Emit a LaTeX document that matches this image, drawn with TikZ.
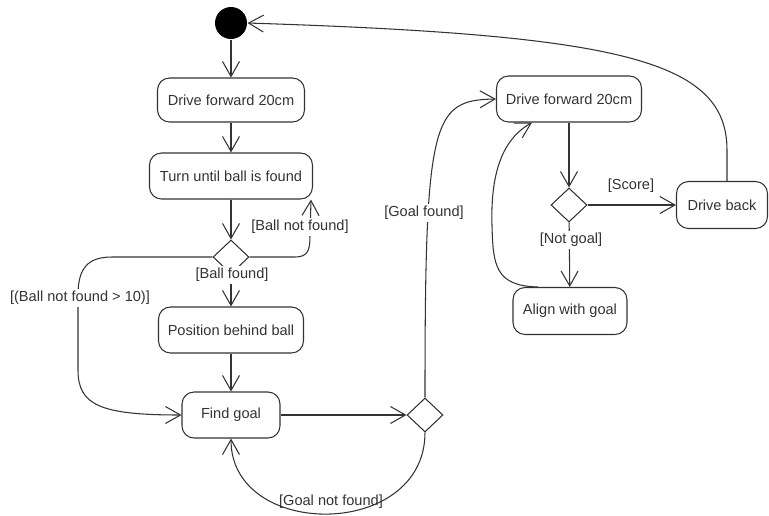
\documentclass[tikz,border=0pt]{standalone}
\usepackage{fontspec}
\setmainfont{Liberation Sans}
\usetikzlibrary{arrows.meta,shapes.geometric,calc}

\begin{document}
\begin{tikzpicture}[
            x=0.02cm, y=-0.02cm,
            color=black!80, line width=0.6pt,
            >={Straight Barb[length=3mm,width=3.4mm]},
            every node/.append style={font=\fontsize{8.3}{10}\selectfont},
            act/.style={draw, rectangle, rounded corners=0.24cm, minimum height=0.9cm, inner sep=2pt},
            choice/.style={draw, diamond, minimum width=0.72cm, minimum height=0.68cm, inner sep=0pt},
            guard/.style={fill=white, inner sep=1pt}
        ]
            \useasboundingbox (0,0) rectangle (769,515);

            \node[circle, fill=black, minimum size=0.64cm, inner sep=0pt] (start) at (231,23) {};
            \node[act, minimum width=2.94cm, minimum height=0.88cm] (fwd) at (231,100) {Drive forward 20cm};
            \node[act, minimum width=3.26cm, minimum height=0.92cm] (turn) at (231,176) {Turn until ball is found};
            \node[choice] (chk) at (231,257) {};
            \node[act, minimum width=2.9cm, minimum height=0.92cm] (pos) at (231,330) {Position behind ball};
            \node[act, minimum width=1.96cm, minimum height=0.92cm] (find) at (231,415) {Find goal};
            \node[choice] (chkg) at (425,415) {};
            \node[act, minimum width=2.9cm, minimum height=0.92cm] (fwdb) at (569,99) {Drive forward 20cm};
            \node[choice] (chks) at (569,205) {};
            \node[act, minimum width=1.82cm, minimum height=0.94cm] (back) at (722,205) {Drive back};
            \node[act, minimum width=2.28cm, minimum height=0.94cm] (align) at (570,311) {Align with goal};

            \draw[->] (start) -- (fwd);
            \draw[->] (fwd) -- (turn);
            \draw[->] (turn) -- (chk);
            \draw[->] (chk.east) -- (295,257) .. controls (308,257) and (310,250) .. (310,236) -- ([xshift=-0.04cm]turn.south east);
            \draw[->] (chk) -- (pos);
            \draw[->] (chk.west) -- (112,257) .. controls (88,257) and (78,268) .. (78,295) -- (78,370) .. controls (78,405) and (100,415) .. (find.west);
            \draw[->] (pos) -- (find);
            \draw[->] (find) -- (chkg);
            \draw[->] (chkg.south) .. controls (425,540) and (231,540) .. (find.south);
            \draw[->] (chkg.north) .. controls (425,120) and (432,100) .. (fwdb.west);
            \draw[->] (fwdb) -- (chks);
            \draw[->] (chks) -- (back);
            \draw[->] (chks) -- (align);
            \draw[->] ([xshift=-0.64cm]align.north) .. controls (495,286) and (493,265) .. (492,225) .. controls (490,160) and (510,135) .. ([xshift=-0.74cm]fwdb.south);
            \draw[->] ([xshift=0.1cm]back.north) -- (727,150) .. controls (727,60) and (620,35) .. (start.east);

            \node[guard] (nfound) at (300,227) {[Ball not found]};
            \node[guard] (found) at (232,275) {[Ball found]};
            \node[guard] (many) at (80,298) {[(Ball not found > 10)]};
            \node[inner sep=1pt] (nogoal) at (331,502) {[Goal not found]};
            \node[guard] (goal) at (424,213) {[Goal found]};
            \node (score) at (631,186) {[Score]};
            \node[guard] (miss) at (571,240) {[Not goal]};
        \end{tikzpicture}
\end{document}
